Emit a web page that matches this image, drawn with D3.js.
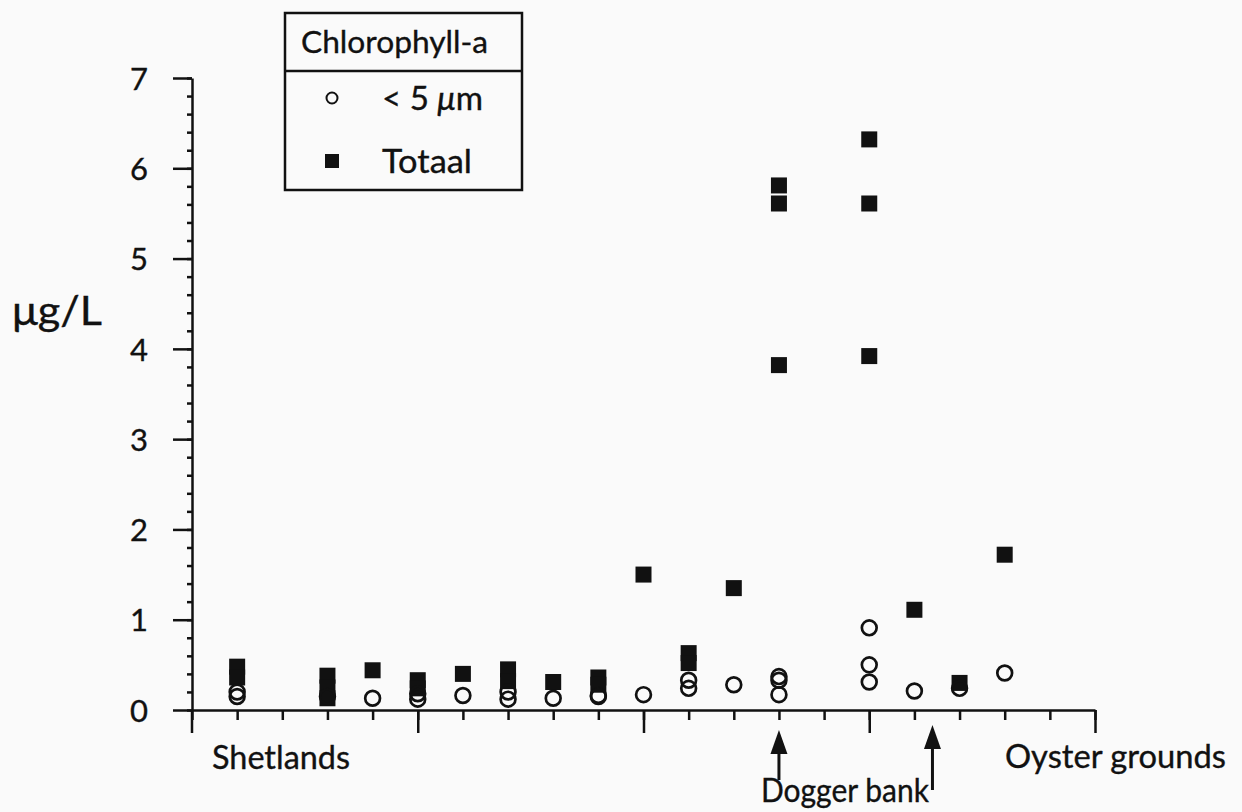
<!DOCTYPE html>
<html>
<head>
<meta charset="utf-8">
<style>
    body { margin: 0; background: #fafafa; }
    svg { font-family: Lato, "Open Sans", sans-serif; }
    .axis path, .axis line { stroke: #111; stroke-width: 2.5; fill: none; }
    .axis text { font-family: Lato, sans-serif; fill: #111; stroke: #111; stroke-width: 0.35; }
    .lbl { fill: #111; stroke: #111; stroke-width: 0.35; }
</style>
<script src="https://d3js.org/d3.v7.min.js"></script>
</head>
<body>
<svg width="1242" height="812"></svg>
<script>
    // stations along the transect (x), chlorophyll-a in ug/L (y)
    var circleStation = [1, 1, 3, 4, 5, 5, 6, 7, 7, 8, 9, 9, 10, 11, 11, 12, 13, 13, 13, 15, 15, 15, 16, 17, 18];
    var circleValue   = [0.15, 0.2, 0.15, 0.13, 0.18, 0.12, 0.16, 0.2, 0.12, 0.13, 0.16, 0.15, 0.17, 0.33, 0.24, 0.28, 0.37, 0.33, 0.17, 0.91, 0.5, 0.31, 0.21, 0.24, 0.41];
    var squareStation = [1, 1, 3, 3, 3, 4, 5, 5, 6, 7, 7, 8, 9, 9, 10, 11, 11, 12, 13, 13, 13, 15, 15, 15, 16, 17, 18];
    var squareValue   = [0.48, 0.36, 0.38, 0.25, 0.13, 0.44, 0.33, 0.24, 0.4, 0.45, 0.32, 0.31, 0.36, 0.28, 1.5, 0.63, 0.52, 1.35, 5.81, 5.61, 3.82, 6.32, 5.61, 3.92, 1.11, 0.3, 1.72];
    var yTicks = [0, 1, 2, 3, 4, 5, 6, 7];
    var arrowStations = [13, 16.4];

    var svg = d3.select("svg");
    var x = d3.scaleLinear().domain([0, 20]).range([192, 1095]);
    var y = d3.scaleLinear().domain([0, 7]).range([710, 78]);

    // y axis: minor ticks every 0.2, major ticks with labels
    svg.append("g").attr("class", "axis").attr("transform", "translate(192,0)")
        .call(d3.axisLeft(y).tickValues(d3.range(0, 7.01, 0.2)).tickSize(5).tickSizeOuter(0).tickFormat(""));
    var yMajor = svg.append("g").attr("class", "axis").attr("transform", "translate(192,0)")
        .call(d3.axisLeft(y).tickValues(yTicks).tickSize(19).tickSizeOuter(0).tickFormat(d3.format("d")).tickPadding(25));
    yMajor.select(".domain").remove();
    yMajor.selectAll("text").attr("font-size", 31).attr("dy", "0.36em");
    // y axis continues below the baseline
    svg.append("line").attr("x1", 192).attr("x2", 192).attr("y1", y(0)).attr("y2", 733)
        .attr("stroke", "#111").attr("stroke-width", 2.5);

    // x axis: minor and major ticks
    svg.append("g").attr("class", "axis").attr("transform", "translate(0," + y(0) + ")")
        .call(d3.axisBottom(x).tickValues(d3.range(0, 21)).tickSize(10).tickSizeOuter(0).tickFormat(""));
    var xMajor = svg.append("g").attr("class", "axis").attr("transform", "translate(0," + y(0) + ")")
        .call(d3.axisBottom(x).tickValues([5, 10, 15, 20]).tickSize(23).tickFormat(""));
    xMajor.select(".domain").remove();

    // Totaal (filled squares), drawn under the < 5 um circles
    var s = 16;
    svg.append("g").selectAll("rect")
        .data(squareStation)
        .enter().append("rect")
        .attr("x", d => x(d) - s / 2)
        .attr("y", (d, i) => y(squareValue[i]) - s / 2)
        .attr("width", s).attr("height", s)
        .attr("fill", "#111");

    svg.append("g").selectAll("circle")
        .data(circleStation)
        .enter().append("circle")
        .attr("cx", d => x(d))
        .attr("cy", (d, i) => y(circleValue[i]))
        .attr("r", 7.4)
        .attr("fill", "none")
        .attr("stroke", "#111")
        .attr("stroke-width", 2.7);

    // y label
    svg.append("text").attr("class", "lbl").attr("x", 12).attr("y", 325).attr("font-size", 41)
        .attr("textLength", 90).attr("lengthAdjust", "spacingAndGlyphs").text("μg/L");

    // station labels
    svg.append("text").attr("class", "lbl").attr("x", 212).attr("y", 769).attr("font-size", 32)
        .attr("textLength", 138).attr("lengthAdjust", "spacingAndGlyphs").text("Shetlands");
    svg.append("text").attr("class", "lbl").attr("x", 1005).attr("y", 768).attr("font-size", 32)
        .attr("textLength", 221).attr("lengthAdjust", "spacingAndGlyphs").text("Oyster grounds");
    svg.append("text").attr("class", "lbl").attr("x", 761).attr("y", 802).attr("font-size", 32)
        .attr("textLength", 168).attr("lengthAdjust", "spacingAndGlyphs").text("Dogger bank");

    // arrows pointing at the Dogger bank stations
    var arrow = svg.append("g").selectAll("g")
        .data(arrowStations)
        .enter().append("g")
        .attr("transform", d => "translate(" + x(d) + ",0)");
    arrow.append("line")
        .attr("x1", 0).attr("x2", 0)
        .attr("y1", 745).attr("y2", (d, i) => i == 0 ? 780 : 790)
        .attr("stroke", "#111").attr("stroke-width", 3);
    arrow.append("path")
        .attr("d", (d, i) => i == 0 ? "M0,730L-8.5,754L8.5,754Z" : "M0,725L-8.5,749L8.5,749Z")
        .attr("fill", "#111");

    // legend
    var lg = svg.append("g");
    lg.append("rect").attr("x", 285).attr("y", 13).attr("width", 237).attr("height", 177)
        .attr("fill", "none").attr("stroke", "#111").attr("stroke-width", 2.5);
    lg.append("line").attr("x1", 285).attr("x2", 522).attr("y1", 71).attr("y2", 71)
        .attr("stroke", "#111").attr("stroke-width", 2.5);
    lg.append("text").attr("class", "lbl").attr("x", 301).attr("y", 53).attr("font-size", 31)
        .attr("textLength", 187).attr("lengthAdjust", "spacingAndGlyphs").text("Chlorophyll-a");
    lg.append("circle").attr("cx", 332).attr("cy", 98).attr("r", 5.5)
        .attr("fill", "none").attr("stroke", "#111").attr("stroke-width", 2);
    var t1 = lg.append("text").attr("class", "lbl").attr("x", 382).attr("y", 110).attr("font-size", 32)
        .attr("textLength", 101).attr("lengthAdjust", "spacingAndGlyphs");
    t1.append("tspan").text("< 5 ");
    t1.append("tspan").attr("font-style", "italic").text("μ");
    t1.append("tspan").text("m");
    lg.append("rect").attr("x", 325).attr("y", 154).attr("width", 14).attr("height", 14).attr("fill", "#111");
    lg.append("text").attr("class", "lbl").attr("x", 382).attr("y", 173).attr("font-size", 32)
        .attr("textLength", 90).attr("lengthAdjust", "spacingAndGlyphs").text("Totaal");
</script>
</body>
</html>
